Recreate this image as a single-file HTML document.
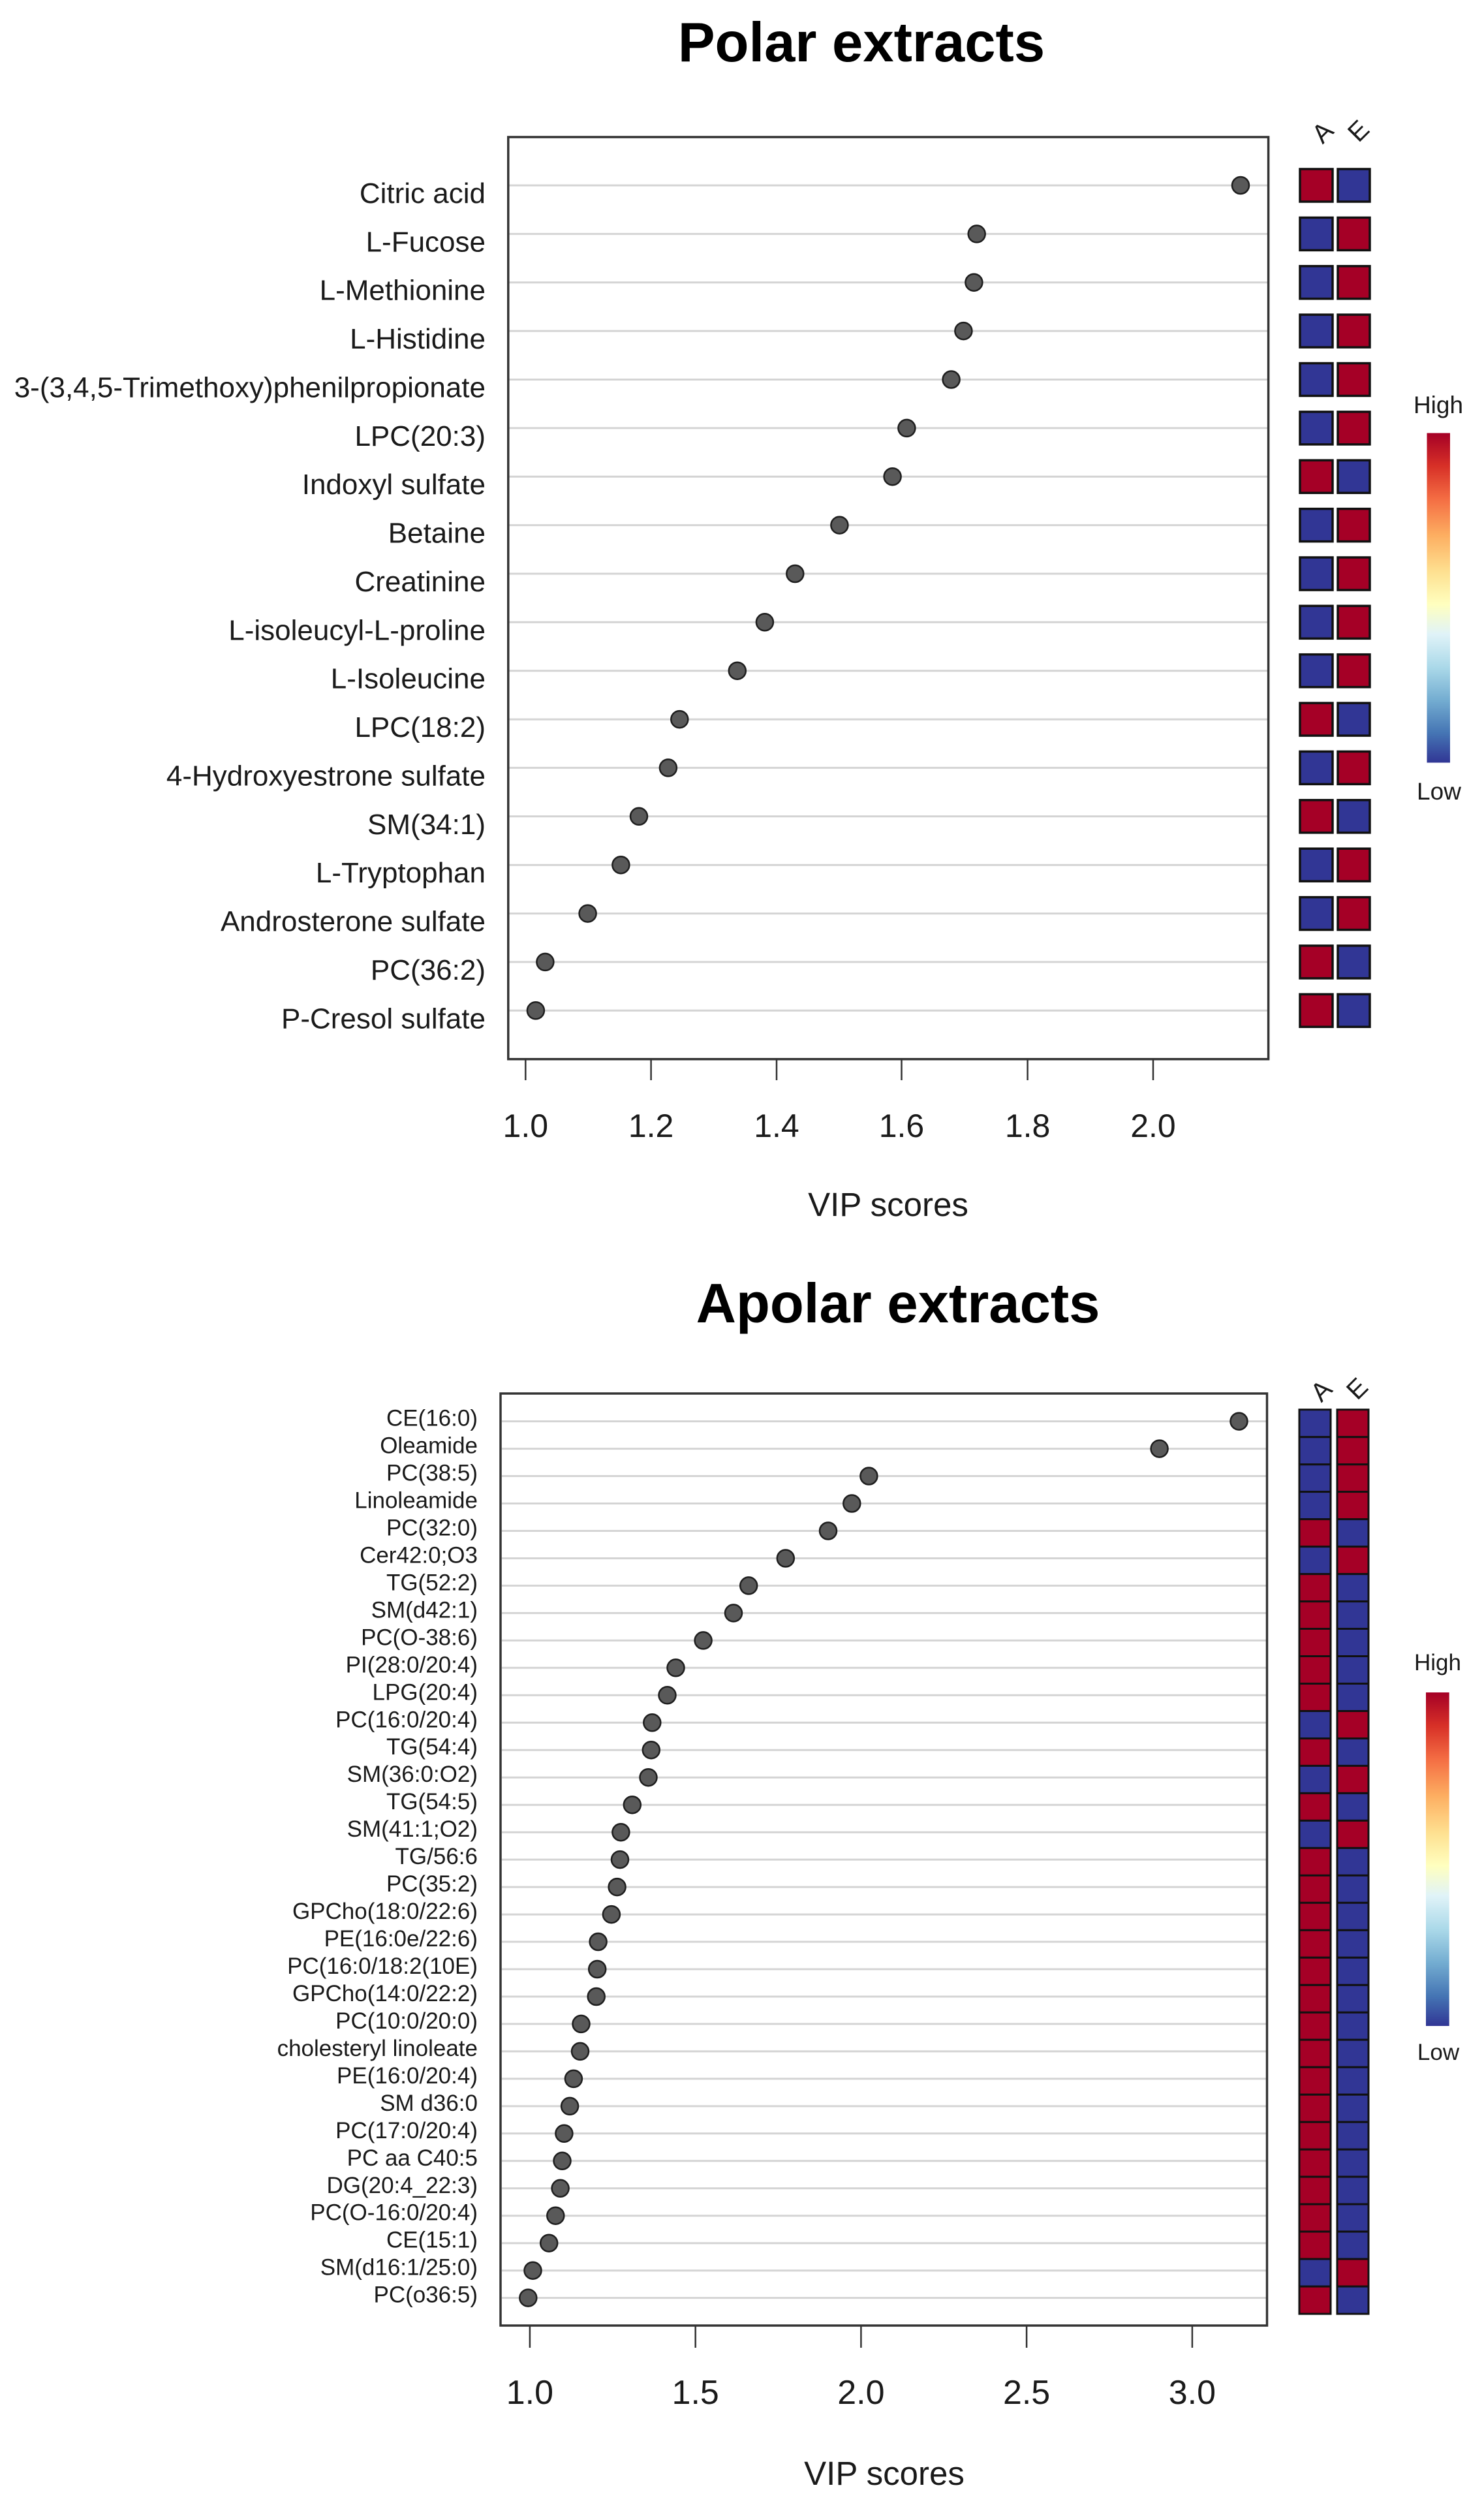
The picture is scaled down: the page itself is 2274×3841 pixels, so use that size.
<!DOCTYPE html>
<html>
<head>
<meta charset="utf-8">
<style>
html,body{margin:0;padding:0;background:#fff;}
svg{display:block;}
text{font-family:"Liberation Sans",Arial,sans-serif;}
</style>
</head>
<body>
<svg width="2274" height="3841" viewBox="0 0 2274 3841" xmlns="http://www.w3.org/2000/svg">
<defs>
<linearGradient id="rdylbu" x1="0" y1="0" x2="0" y2="1">
<stop offset="0%" stop-color="#a50026"/>
<stop offset="10%" stop-color="#d73027"/>
<stop offset="20%" stop-color="#f46d43"/>
<stop offset="31%" stop-color="#fdae61"/>
<stop offset="42%" stop-color="#fee090"/>
<stop offset="52%" stop-color="#ffffbf"/>
<stop offset="61%" stop-color="#e0f3f8"/>
<stop offset="71%" stop-color="#abd9e9"/>
<stop offset="81%" stop-color="#74add1"/>
<stop offset="91%" stop-color="#4575b4"/>
<stop offset="100%" stop-color="#313695"/>
</linearGradient>
</defs>
<rect width="2274" height="3841" fill="#fff"/>

<!-- ================= POLAR ================= -->
<text x="1320" y="94" font-size="85" font-weight="bold" text-anchor="middle" fill="#000">Polar extracts</text>

<g stroke="#d4d4d4" stroke-width="3">
<line x1="780" x2="1942" y1="284" y2="284"/>
<line x1="780" x2="1942" y1="358.4" y2="358.4"/>
<line x1="780" x2="1942" y1="432.7" y2="432.7"/>
<line x1="780" x2="1942" y1="507.1" y2="507.1"/>
<line x1="780" x2="1942" y1="581.5" y2="581.5"/>
<line x1="780" x2="1942" y1="655.9" y2="655.9"/>
<line x1="780" x2="1942" y1="730.2" y2="730.2"/>
<line x1="780" x2="1942" y1="804.6" y2="804.6"/>
<line x1="780" x2="1942" y1="879" y2="879"/>
<line x1="780" x2="1942" y1="953.3" y2="953.3"/>
<line x1="780" x2="1942" y1="1027.7" y2="1027.7"/>
<line x1="780" x2="1942" y1="1102.1" y2="1102.1"/>
<line x1="780" x2="1942" y1="1176.4" y2="1176.4"/>
<line x1="780" x2="1942" y1="1250.8" y2="1250.8"/>
<line x1="780" x2="1942" y1="1325.2" y2="1325.2"/>
<line x1="780" x2="1942" y1="1399.6" y2="1399.6"/>
<line x1="780" x2="1942" y1="1473.9" y2="1473.9"/>
<line x1="780" x2="1942" y1="1548.3" y2="1548.3"/>
</g>

<rect x="778.8" y="210" width="1164.8" height="1412.7" fill="none" stroke="#333" stroke-width="3.5"/>

<g fill="#595959" stroke="#1e1e1e" stroke-width="2.5">
<circle cx="1901" cy="284" r="13"/>
<circle cx="1496.7" cy="358.4" r="13"/>
<circle cx="1492.4" cy="432.7" r="13"/>
<circle cx="1476.4" cy="507.1" r="13"/>
<circle cx="1457.6" cy="581.5" r="13"/>
<circle cx="1389.4" cy="655.9" r="13"/>
<circle cx="1367.6" cy="730.2" r="13"/>
<circle cx="1286.4" cy="804.6" r="13"/>
<circle cx="1218.3" cy="879" r="13"/>
<circle cx="1171.9" cy="953.3" r="13"/>
<circle cx="1129.8" cy="1027.7" r="13"/>
<circle cx="1041.3" cy="1102.1" r="13"/>
<circle cx="1023.9" cy="1176.4" r="13"/>
<circle cx="979" cy="1250.8" r="13"/>
<circle cx="951.4" cy="1325.2" r="13"/>
<circle cx="900.6" cy="1399.6" r="13"/>
<circle cx="835.4" cy="1473.9" r="13"/>
<circle cx="820.9" cy="1548.3" r="13"/>
</g>

<g font-size="44" text-anchor="end" fill="#1a1a1a">
<text x="744" y="311">Citric acid</text>
<text x="744" y="385.4">L-Fucose</text>
<text x="744" y="459.7">L-Methionine</text>
<text x="744" y="534.1">L-Histidine</text>
<text x="744" y="608.5">3-(3,4,5-Trimethoxy)phenilpropionate</text>
<text x="744" y="682.9">LPC(20:3)</text>
<text x="744" y="757.2">Indoxyl sulfate</text>
<text x="744" y="831.6">Betaine</text>
<text x="744" y="906">Creatinine</text>
<text x="744" y="980.3">L-isoleucyl-L-proline</text>
<text x="744" y="1054.7">L-Isoleucine</text>
<text x="744" y="1129.1">LPC(18:2)</text>
<text x="744" y="1203.4">4-Hydroxyestrone sulfate</text>
<text x="744" y="1277.8">SM(34:1)</text>
<text x="744" y="1352.2">L-Tryptophan</text>
<text x="744" y="1426.6">Androsterone sulfate</text>
<text x="744" y="1500.9">PC(36:2)</text>
<text x="744" y="1575.3">P-Cresol sulfate</text>
</g>

<g stroke="#333" stroke-width="2.5">
<line x1="805.3" x2="805.3" y1="1622.7" y2="1655"/>
<line x1="997.6" x2="997.6" y1="1622.7" y2="1655"/>
<line x1="1190" x2="1190" y1="1622.7" y2="1655"/>
<line x1="1381.5" x2="1381.5" y1="1622.7" y2="1655"/>
<line x1="1574.6" x2="1574.6" y1="1622.7" y2="1655"/>
<line x1="1767" x2="1767" y1="1622.7" y2="1655"/>
</g>
<g font-size="50" text-anchor="middle" fill="#1a1a1a">
<text x="805.3" y="1742">1.0</text>
<text x="997.6" y="1742">1.2</text>
<text x="1190" y="1742">1.4</text>
<text x="1381.5" y="1742">1.6</text>
<text x="1574.6" y="1742">1.8</text>
<text x="1767" y="1742">2.0</text>
</g>
<text x="1361" y="1863" font-size="51" text-anchor="middle" fill="#1a1a1a">VIP scores</text>

<g font-size="40" text-anchor="middle" fill="#1a1a1a" dominant-baseline="central">
<text x="2027" y="203" transform="rotate(-45 2027 203)">A</text>
<text x="2082" y="201" transform="rotate(-45 2082 201)">E</text>
</g>
<g stroke="#111" stroke-width="3.5">
<rect x="1992" y="259" width="50" height="50" fill="#a50026"/><rect x="2050" y="259" width="49" height="50" fill="#313695"/>
<rect x="1992" y="333.4" width="50" height="50" fill="#313695"/><rect x="2050" y="333.4" width="49" height="50" fill="#a50026"/>
<rect x="1992" y="407.7" width="50" height="50" fill="#313695"/><rect x="2050" y="407.7" width="49" height="50" fill="#a50026"/>
<rect x="1992" y="482.1" width="50" height="50" fill="#313695"/><rect x="2050" y="482.1" width="49" height="50" fill="#a50026"/>
<rect x="1992" y="556.5" width="50" height="50" fill="#313695"/><rect x="2050" y="556.5" width="49" height="50" fill="#a50026"/>
<rect x="1992" y="630.9" width="50" height="50" fill="#313695"/><rect x="2050" y="630.9" width="49" height="50" fill="#a50026"/>
<rect x="1992" y="705.2" width="50" height="50" fill="#a50026"/><rect x="2050" y="705.2" width="49" height="50" fill="#313695"/>
<rect x="1992" y="779.6" width="50" height="50" fill="#313695"/><rect x="2050" y="779.6" width="49" height="50" fill="#a50026"/>
<rect x="1992" y="854" width="50" height="50" fill="#313695"/><rect x="2050" y="854" width="49" height="50" fill="#a50026"/>
<rect x="1992" y="928.3" width="50" height="50" fill="#313695"/><rect x="2050" y="928.3" width="49" height="50" fill="#a50026"/>
<rect x="1992" y="1002.7" width="50" height="50" fill="#313695"/><rect x="2050" y="1002.7" width="49" height="50" fill="#a50026"/>
<rect x="1992" y="1077.1" width="50" height="50" fill="#a50026"/><rect x="2050" y="1077.1" width="49" height="50" fill="#313695"/>
<rect x="1992" y="1151.4" width="50" height="50" fill="#313695"/><rect x="2050" y="1151.4" width="49" height="50" fill="#a50026"/>
<rect x="1992" y="1225.8" width="50" height="50" fill="#a50026"/><rect x="2050" y="1225.8" width="49" height="50" fill="#313695"/>
<rect x="1992" y="1300.2" width="50" height="50" fill="#313695"/><rect x="2050" y="1300.2" width="49" height="50" fill="#a50026"/>
<rect x="1992" y="1374.6" width="50" height="50" fill="#313695"/><rect x="2050" y="1374.6" width="49" height="50" fill="#a50026"/>
<rect x="1992" y="1448.9" width="50" height="50" fill="#a50026"/><rect x="2050" y="1448.9" width="49" height="50" fill="#313695"/>
<rect x="1992" y="1523.3" width="50" height="50" fill="#a50026"/><rect x="2050" y="1523.3" width="49" height="50" fill="#313695"/>
</g>

<text x="2204" y="633" font-size="37" text-anchor="middle" fill="#1a1a1a">High</text>
<rect x="2186.5" y="663.5" width="35.5" height="505" fill="url(#rdylbu)"/>
<text x="2205" y="1225" font-size="37" text-anchor="middle" fill="#1a1a1a">Low</text>

<!-- ================= APOLAR ================= -->
<text x="1376" y="2026" font-size="85" font-weight="bold" text-anchor="middle" fill="#000">Apolar extracts</text>

<g stroke="#d4d4d4" stroke-width="3">
<line x1="769" x2="1940" y1="2177.6" y2="2177.6"/>
<line x1="769" x2="1940" y1="2219.6" y2="2219.6"/>
<line x1="769" x2="1940" y1="2261.5" y2="2261.5"/>
<line x1="769" x2="1940" y1="2303.5" y2="2303.5"/>
<line x1="769" x2="1940" y1="2345.5" y2="2345.5"/>
<line x1="769" x2="1940" y1="2387.5" y2="2387.5"/>
<line x1="769" x2="1940" y1="2429.4" y2="2429.4"/>
<line x1="769" x2="1940" y1="2471.4" y2="2471.4"/>
<line x1="769" x2="1940" y1="2513.4" y2="2513.4"/>
<line x1="769" x2="1940" y1="2555.3" y2="2555.3"/>
<line x1="769" x2="1940" y1="2597.3" y2="2597.3"/>
<line x1="769" x2="1940" y1="2639.3" y2="2639.3"/>
<line x1="769" x2="1940" y1="2681.2" y2="2681.2"/>
<line x1="769" x2="1940" y1="2723.2" y2="2723.2"/>
<line x1="769" x2="1940" y1="2765.2" y2="2765.2"/>
<line x1="769" x2="1940" y1="2807.2" y2="2807.2"/>
<line x1="769" x2="1940" y1="2849.1" y2="2849.1"/>
<line x1="769" x2="1940" y1="2891.1" y2="2891.1"/>
<line x1="769" x2="1940" y1="2933.1" y2="2933.1"/>
<line x1="769" x2="1940" y1="2975" y2="2975"/>
<line x1="769" x2="1940" y1="3017" y2="3017"/>
<line x1="769" x2="1940" y1="3059" y2="3059"/>
<line x1="769" x2="1940" y1="3100.9" y2="3100.9"/>
<line x1="769" x2="1940" y1="3142.9" y2="3142.9"/>
<line x1="769" x2="1940" y1="3184.9" y2="3184.9"/>
<line x1="769" x2="1940" y1="3226.9" y2="3226.9"/>
<line x1="769" x2="1940" y1="3268.8" y2="3268.8"/>
<line x1="769" x2="1940" y1="3310.8" y2="3310.8"/>
<line x1="769" x2="1940" y1="3352.8" y2="3352.8"/>
<line x1="769" x2="1940" y1="3394.7" y2="3394.7"/>
<line x1="769" x2="1940" y1="3436.7" y2="3436.7"/>
<line x1="769" x2="1940" y1="3478.7" y2="3478.7"/>
<line x1="769" x2="1940" y1="3520.6" y2="3520.6"/>
</g>

<rect x="767" y="2135" width="1174.5" height="1428" fill="none" stroke="#333" stroke-width="3.5"/>

<g fill="#595959" stroke="#1e1e1e" stroke-width="2.5">
<circle cx="1898.5" cy="2177.6" r="13"/>
<circle cx="1776.6" cy="2219.6" r="13"/>
<circle cx="1331.4" cy="2261.5" r="13"/>
<circle cx="1305.3" cy="2303.5" r="13"/>
<circle cx="1269" cy="2345.5" r="13"/>
<circle cx="1203.8" cy="2387.5" r="13"/>
<circle cx="1147.2" cy="2429.4" r="13"/>
<circle cx="1124" cy="2471.4" r="13"/>
<circle cx="1077.6" cy="2513.4" r="13"/>
<circle cx="1035.5" cy="2555.3" r="13"/>
<circle cx="1022.5" cy="2597.3" r="13"/>
<circle cx="999.3" cy="2639.3" r="13"/>
<circle cx="997.8" cy="2681.2" r="13"/>
<circle cx="993.5" cy="2723.2" r="13"/>
<circle cx="968.8" cy="2765.2" r="13"/>
<circle cx="951.4" cy="2807.2" r="13"/>
<circle cx="950" cy="2849.1" r="13"/>
<circle cx="945.6" cy="2891.1" r="13"/>
<circle cx="936.9" cy="2933.1" r="13"/>
<circle cx="916.6" cy="2975" r="13"/>
<circle cx="915.2" cy="3017" r="13"/>
<circle cx="913.7" cy="3059" r="13"/>
<circle cx="890.5" cy="3100.9" r="13"/>
<circle cx="889" cy="3142.9" r="13"/>
<circle cx="878.9" cy="3184.9" r="13"/>
<circle cx="873.1" cy="3226.9" r="13"/>
<circle cx="864.4" cy="3268.8" r="13"/>
<circle cx="861.5" cy="3310.8" r="13"/>
<circle cx="858.6" cy="3352.8" r="13"/>
<circle cx="851.3" cy="3394.7" r="13"/>
<circle cx="841.2" cy="3436.7" r="13"/>
<circle cx="816.5" cy="3478.7" r="13"/>
<circle cx="809.3" cy="3520.6" r="13"/>
</g>

<g font-size="35" text-anchor="end" fill="#1a1a1a">
<text x="732" y="2184.6">CE(16:0)</text>
<text x="732" y="2226.6">Oleamide</text>
<text x="732" y="2268.5">PC(38:5)</text>
<text x="732" y="2310.5">Linoleamide</text>
<text x="732" y="2352.5">PC(32:0)</text>
<text x="732" y="2394.5">Cer42:0;O3</text>
<text x="732" y="2436.4">TG(52:2)</text>
<text x="732" y="2478.4">SM(d42:1)</text>
<text x="732" y="2520.4">PC(O-38:6)</text>
<text x="732" y="2562.3">PI(28:0/20:4)</text>
<text x="732" y="2604.3">LPG(20:4)</text>
<text x="732" y="2646.3">PC(16:0/20:4)</text>
<text x="732" y="2688.2">TG(54:4)</text>
<text x="732" y="2730.2">SM(36:0:O2)</text>
<text x="732" y="2772.2">TG(54:5)</text>
<text x="732" y="2814.2">SM(41:1;O2)</text>
<text x="732" y="2856.1">TG/56:6</text>
<text x="732" y="2898.1">PC(35:2)</text>
<text x="732" y="2940.1">GPCho(18:0/22:6)</text>
<text x="732" y="2982">PE(16:0e/22:6)</text>
<text x="732" y="3024">PC(16:0/18:2(10E)</text>
<text x="732" y="3066">GPCho(14:0/22:2)</text>
<text x="732" y="3107.9">PC(10:0/20:0)</text>
<text x="732" y="3149.9">cholesteryl linoleate</text>
<text x="732" y="3191.9">PE(16:0/20:4)</text>
<text x="732" y="3233.9">SM d36:0</text>
<text x="732" y="3275.8">PC(17:0/20:4)</text>
<text x="732" y="3317.8">PC aa C40:5</text>
<text x="732" y="3359.8">DG(20:4_22:3)</text>
<text x="732" y="3401.7">PC(O-16:0/20:4)</text>
<text x="732" y="3443.7">CE(15:1)</text>
<text x="732" y="3485.7">SM(d16:1/25:0)</text>
<text x="732" y="3527.6">PC(o36:5)</text>
</g>

<g stroke="#333" stroke-width="2.5">
<line x1="811.9" x2="811.9" y1="3563" y2="3597"/>
<line x1="1065.7" x2="1065.7" y1="3563" y2="3597"/>
<line x1="1319.4" x2="1319.4" y1="3563" y2="3597"/>
<line x1="1573.1" x2="1573.1" y1="3563" y2="3597"/>
<line x1="1826.9" x2="1826.9" y1="3563" y2="3597"/>
</g>
<g font-size="52" text-anchor="middle" fill="#1a1a1a">
<text x="811.9" y="3683">1.0</text>
<text x="1065.7" y="3683">1.5</text>
<text x="1319.4" y="3683">2.0</text>
<text x="1573.1" y="3683">2.5</text>
<text x="1826.9" y="3683">3.0</text>
</g>
<text x="1355" y="3807" font-size="51" text-anchor="middle" fill="#1a1a1a">VIP scores</text>

<g font-size="40" text-anchor="middle" fill="#1a1a1a" dominant-baseline="central">
<text x="2025" y="2131" transform="rotate(-45 2025 2131)">A</text>
<text x="2080" y="2128" transform="rotate(-45 2080 2128)">E</text>
</g>
<g stroke="#111" stroke-width="3">
<rect x="1991" y="2159.7" width="48" height="42" fill="#313695"/><rect x="2049" y="2159.7" width="48" height="42" fill="#a50026"/>
<rect x="1991" y="2201.7" width="48" height="42" fill="#313695"/><rect x="2049" y="2201.7" width="48" height="42" fill="#a50026"/>
<rect x="1991" y="2243.7" width="48" height="42" fill="#313695"/><rect x="2049" y="2243.7" width="48" height="42" fill="#a50026"/>
<rect x="1991" y="2285.6" width="48" height="42" fill="#313695"/><rect x="2049" y="2285.6" width="48" height="42" fill="#a50026"/>
<rect x="1991" y="2327.6" width="48" height="42" fill="#a50026"/><rect x="2049" y="2327.6" width="48" height="42" fill="#313695"/>
<rect x="1991" y="2369.6" width="48" height="42" fill="#313695"/><rect x="2049" y="2369.6" width="48" height="42" fill="#a50026"/>
<rect x="1991" y="2411.6" width="48" height="42" fill="#a50026"/><rect x="2049" y="2411.6" width="48" height="42" fill="#313695"/>
<rect x="1991" y="2453.6" width="48" height="42" fill="#a50026"/><rect x="2049" y="2453.6" width="48" height="42" fill="#313695"/>
<rect x="1991" y="2495.5" width="48" height="42" fill="#a50026"/><rect x="2049" y="2495.5" width="48" height="42" fill="#313695"/>
<rect x="1991" y="2537.5" width="48" height="42" fill="#a50026"/><rect x="2049" y="2537.5" width="48" height="42" fill="#313695"/>
<rect x="1991" y="2579.5" width="48" height="42" fill="#a50026"/><rect x="2049" y="2579.5" width="48" height="42" fill="#313695"/>
<rect x="1991" y="2621.5" width="48" height="42" fill="#313695"/><rect x="2049" y="2621.5" width="48" height="42" fill="#a50026"/>
<rect x="1991" y="2663.5" width="48" height="42" fill="#a50026"/><rect x="2049" y="2663.5" width="48" height="42" fill="#313695"/>
<rect x="1991" y="2705.4" width="48" height="42" fill="#313695"/><rect x="2049" y="2705.4" width="48" height="42" fill="#a50026"/>
<rect x="1991" y="2747.4" width="48" height="42" fill="#a50026"/><rect x="2049" y="2747.4" width="48" height="42" fill="#313695"/>
<rect x="1991" y="2789.4" width="48" height="42" fill="#313695"/><rect x="2049" y="2789.4" width="48" height="42" fill="#a50026"/>
<rect x="1991" y="2831.4" width="48" height="42" fill="#a50026"/><rect x="2049" y="2831.4" width="48" height="42" fill="#313695"/>
<rect x="1991" y="2873.4" width="48" height="42" fill="#a50026"/><rect x="2049" y="2873.4" width="48" height="42" fill="#313695"/>
<rect x="1991" y="2915.3" width="48" height="42" fill="#a50026"/><rect x="2049" y="2915.3" width="48" height="42" fill="#313695"/>
<rect x="1991" y="2957.3" width="48" height="42" fill="#a50026"/><rect x="2049" y="2957.3" width="48" height="42" fill="#313695"/>
<rect x="1991" y="2999.3" width="48" height="42" fill="#a50026"/><rect x="2049" y="2999.3" width="48" height="42" fill="#313695"/>
<rect x="1991" y="3041.3" width="48" height="42" fill="#a50026"/><rect x="2049" y="3041.3" width="48" height="42" fill="#313695"/>
<rect x="1991" y="3083.3" width="48" height="42" fill="#a50026"/><rect x="2049" y="3083.3" width="48" height="42" fill="#313695"/>
<rect x="1991" y="3125.2" width="48" height="42" fill="#a50026"/><rect x="2049" y="3125.2" width="48" height="42" fill="#313695"/>
<rect x="1991" y="3167.2" width="48" height="42" fill="#a50026"/><rect x="2049" y="3167.2" width="48" height="42" fill="#313695"/>
<rect x="1991" y="3209.2" width="48" height="42" fill="#a50026"/><rect x="2049" y="3209.2" width="48" height="42" fill="#313695"/>
<rect x="1991" y="3251.2" width="48" height="42" fill="#a50026"/><rect x="2049" y="3251.2" width="48" height="42" fill="#313695"/>
<rect x="1991" y="3293.2" width="48" height="42" fill="#a50026"/><rect x="2049" y="3293.2" width="48" height="42" fill="#313695"/>
<rect x="1991" y="3335.1" width="48" height="42" fill="#a50026"/><rect x="2049" y="3335.1" width="48" height="42" fill="#313695"/>
<rect x="1991" y="3377.1" width="48" height="42" fill="#a50026"/><rect x="2049" y="3377.1" width="48" height="42" fill="#313695"/>
<rect x="1991" y="3419.1" width="48" height="42" fill="#a50026"/><rect x="2049" y="3419.1" width="48" height="42" fill="#313695"/>
<rect x="1991" y="3461.1" width="48" height="42" fill="#313695"/><rect x="2049" y="3461.1" width="48" height="42" fill="#a50026"/>
<rect x="1991" y="3503.1" width="48" height="42" fill="#a50026"/><rect x="2049" y="3503.1" width="48" height="42" fill="#313695"/>
</g>

<text x="2203" y="2559" font-size="35" text-anchor="middle" fill="#1a1a1a">High</text>
<rect x="2185" y="2593" width="35.7" height="511" fill="url(#rdylbu)"/>
<text x="2204" y="3156" font-size="35" text-anchor="middle" fill="#1a1a1a">Low</text>
</svg>
</body>
</html>
